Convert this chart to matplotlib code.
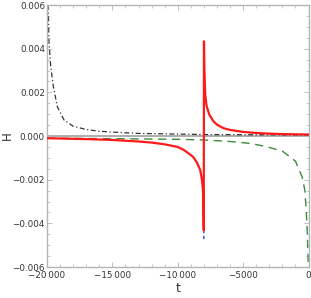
import numpy as np
import matplotlib.pyplot as plt
from matplotlib.ticker import MultipleLocator, FixedLocator

# red curve (blue one sits underneath, slightly longer tips)
t_red = [-20000, -17000, -15000, -13000, -12000, -11000, -10000, -9580, -9200, -8800,
         -8500, -8280, -8150, -8070, -8030, -8010,
         -7995, -7960, -7900, -7800, -7600, -7300, -7000, -6500, -6000, -5000,
         -4000, -3000, -2000, -1000, 0]
H_red = [-0.00010, -0.00014, -0.00018, -0.00025, -0.00030, -0.00038, -0.00050, -0.00062, -0.00078, -0.00097,
         -0.00125, -0.00156, -0.00200, -0.00248, -0.00350, -0.00432,
         0.00434, 0.00300, 0.00190, 0.00140, 0.00100, 0.00070, 0.00052, 0.00036, 0.00028, 0.00019,
         0.00014, 0.00011, 0.00009, 0.00008, 0.00007]

t_blue = [-8030, -8010, -8006]
H_blue = [-0.00350, -0.00432, -0.00480]

t_black = [-19925, -19880, -19845, -19715, -19520, -19210, -18700, -18000, -17000, -16000,
           -15000, -13000, -10000, -8000, -5000, 0]
H_black = [0.0060, 0.0053, 0.0043, 0.0032, 0.0023, 0.00135, 0.00074, 0.00045, 0.00030, 0.00022,
           0.00018, 0.00012, 0.00009, 0.00007, 0.00006, 0.00005]

t_green = [-20000, -15000, -10000, -8000, -6000, -4400, -3200, -2000, -1000, -500,
           -280, -175, -100, -55, -15]
H_green = [-0.00010, -0.00012, -0.00015, -0.00018, -0.00025, -0.00034, -0.00049, -0.00069, -0.00115, -0.00185,
           -0.00248, -0.00340, -0.00430, -0.00520, -0.00600]

xticks = [-20000, -15000, -10000, -5000, 0]
xlabels = ['\u221220\u2009000', '\u221215\u2009000', '\u221210\u2009000', '\u22125000', '0']
yticks = [-0.006, -0.004, -0.002, 0.000, 0.002, 0.004, 0.006]
ylabels = ['\u22120.006', '\u22120.004', '\u22120.002', '0.000', '0.002', '0.004', '0.006']

fig = plt.figure(figsize=(3.11, 2.98), dpi=100)
ax = fig.add_axes([0.151, 0.104, 0.841, 0.879])

ax.axhline(0, color='#a0a0a0', lw=1.2, zorder=1)
ax.plot(t_green, H_green, color='#3c8c3c', lw=1.0, dashes=(6, 4), zorder=2)
ax.plot(t_black, H_black, color='#333333', lw=0.9, dashes=(4, 2, 1, 2), zorder=2)
ax.plot(t_blue, H_blue, color='#4060e0', lw=1.2, dashes=(2, 1.5), zorder=3)
ax.plot(t_red, H_red, color='#ff1a1a', lw=1.6, zorder=4)

ax.set_xlim(-20000, 0)
ax.set_ylim(-0.006, 0.006)

ax.xaxis.set_major_locator(FixedLocator(xticks))
ax.set_xticklabels(xlabels)
ax.yaxis.set_major_locator(FixedLocator(yticks))
ax.set_yticklabels(ylabels)
ax.xaxis.set_minor_locator(MultipleLocator(1000))
ax.yaxis.set_minor_locator(MultipleLocator(0.0005))

for s in ax.spines.values():
    s.set_color('#b4b4b4')
    s.set_linewidth(1.0)
ax.tick_params(which='both', direction='in', top=True, right=True, color='#b4b4b4',
               labelsize=6.3, labelcolor='#333333', pad=1.5)
ax.tick_params(axis='x', which='major', pad=3)
ax.tick_params(which='major', length=3.5, width=0.6)
ax.tick_params(which='minor', length=2, width=0.5)

ax.set_xlabel('t', fontsize=9, color='#333333', labelpad=1)
ax.set_ylabel('H', fontsize=8.5, color='#333333')
ax.yaxis.set_label_coords(-0.125, 0.5)

fig.savefig('out.png', dpi=100)
